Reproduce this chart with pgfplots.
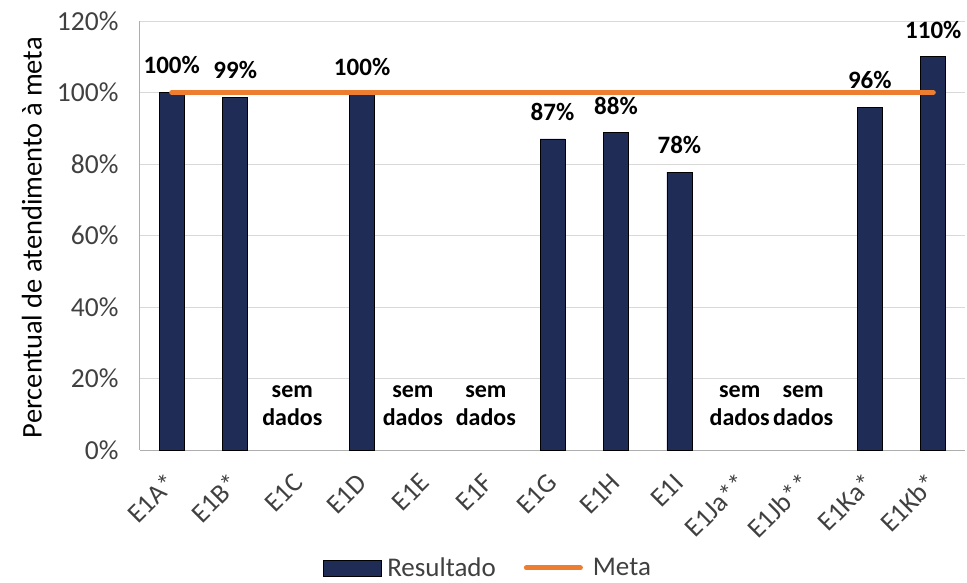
\documentclass[border=0pt]{standalone}
\usepackage{pgfplots}
\pgfplotsset{compat=1.18}
\usepackage{fontspec}
\setmainfont{Carlito}
\definecolor{barc}{HTML}{1F2D56}
\definecolor{metac}{HTML}{ED7D31}
\definecolor{txt}{HTML}{404040}
\definecolor{gridc}{HTML}{D9D9D9}
\begin{document}
\begin{tikzpicture}
\path[use as bounding box] (-140pt,-132pt) rectangle (827pt,450pt);
\begin{axis}[
  scale only axis, width=825pt, height=429pt,
  xmin=-0.5, xmax=12.5, ymin=0, ymax=120,
  axis x line=bottom, axis y line=left,
  axis line style={-, draw=gridc!80!black, line width=1pt},
  ytick={0,20,...,120},
  yticklabel={\pgfmathprintnumber{\tick}\%},
  /pgf/number format/assume math mode=true,
  ymajorgrids, grid style={gridc, line width=1pt},
  xtick={0,...,12},
  xticklabels={E1A*,E1B*,E1C,E1D,E1E,E1F,E1G,E1H,E1I,E1Ja**,E1Jb**,E1Ka*,E1Kb*},
  major tick length=0pt,
  yticklabel style={font=\fontsize{27.5}{32}\selectfont, text=txt, xshift=-18pt},
  xticklabel style={font=\fontsize{27}{32}\selectfont, text=txt, yshift=-26pt, xshift=2pt, rotate=45, anchor=east},
  ylabel={Percentual de atendimento à meta},
  ylabel style={at={(axis description cs:-0.131,0.495)}, anchor=center, font=\fontsize{28.5}{34}\selectfont, text=black},
  legend style={at={(axis description cs:0.424,-0.275)}, anchor=center, draw=none, legend columns=2,
    font=\fontsize{27}{32}\selectfont, text=txt,
    nodes={inner xsep=6pt},
    /tikz/every even column/.append style={column sep=22pt}},
  clip=false,
]
\addplot[ybar, bar width=25pt, fill=barc, draw=black, line width=0.6pt,
  point meta=explicit symbolic,
  nodes near coords,
  every node near coord/.append style={font=\bfseries\fontsize{25}{30}\selectfont, text=black, anchor=south, inner sep=0pt, yshift=18pt},
  legend image code/.code={\draw[fill=barc,draw=black,line width=0.6pt] (0pt,-8pt) rectangle (58pt,8pt);}]
  coordinates {
  (0,100) [100\%]
  (1,98.7) [99\%]
  (3,99.6) [100\%]
  (6,87) [87\%]
  (7,88.8) [88\%]
  (8,77.7) [78\%]
  (11,95.9) [96\%]
  (12,110) [110\%]
  };
\addlegendentry{Resultado}
\addplot[metac, line width=5pt, line cap=round, mark=none,
  legend image code/.code={\draw[metac,line width=5pt,line cap=round] (2pt,0pt) -- (56pt,0pt); \path (60pt,0pt);}]
  coordinates {(0,100) (1,100) (2,100) (3,100) (4,100) (5,100) (6,100) (7,100) (8,100) (9,100) (10,100) (11,100) (12,100)};
\addlegendentry{Meta}
\node[font=\bfseries\fontsize{24}{28}\selectfont, align=center] at (axis cs:1.9,12.5) {sem\\dados};
\node[font=\bfseries\fontsize{24}{28}\selectfont, align=center] at (axis cs:3.8,12.5) {sem\\dados};
\node[font=\bfseries\fontsize{24}{28}\selectfont, align=center] at (axis cs:4.95,12.5) {sem\\dados};
\node[font=\bfseries\fontsize{24}{28}\selectfont, align=center] at (axis cs:8.95,12.5) {sem\\dados};
\node[font=\bfseries\fontsize{24}{28}\selectfont, align=center] at (axis cs:9.95,12.5) {sem\\dados};
\end{axis}
\end{tikzpicture}
\end{document}
